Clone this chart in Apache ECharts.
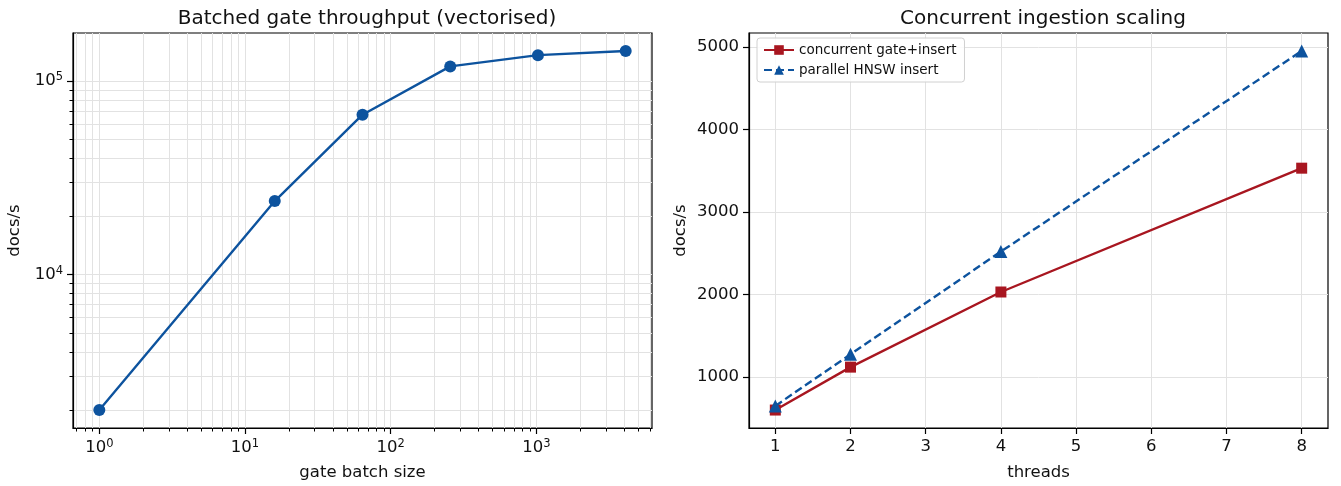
<!DOCTYPE html>
<html>
<head>
<meta charset="utf-8">
<script src="https://cdn.jsdelivr.net/npm/echarts@6/dist/echarts.min.js"></script>
<style>
html,body{margin:0;padding:0;background:#fff;}
#chart{width:1341px;height:486px;}
</style>
</head>
<body>
<div id="chart"></div>
<script>
// ---- data ----
const batchSizes = [1, 16, 64, 256, 1024, 4096];
const batchThroughput = [2000, 24000, 67000, 119000, 136000, 143000];

const threads = [1, 2, 4, 8];
const concurrentGateInsert = [600, 1120, 2030, 3530];
const parallelHnswInsert = [650, 1275, 2520, 4950];

const leftXMajorTicks = [1, 10, 100, 1000];
const leftXMinorTicks = [0.7, 0.8, 0.9, 2, 3, 4, 5, 6, 7, 8, 9, 20, 30, 40, 50, 60, 70, 80, 90,
  200, 300, 400, 500, 600, 700, 800, 900, 2000, 3000, 4000, 5000, 6000];
const leftYMajorTicks = [10000, 100000];
const leftYMinorTicks = [2000, 3000, 4000, 5000, 6000, 7000, 8000, 9000,
  20000, 30000, 40000, 50000, 60000, 70000, 80000, 90000];
const rightXTicks = [1, 2, 3, 4, 5, 6, 7, 8];
const rightYTicks = [1000, 2000, 3000, 4000, 5000];

// ---- helpers (axis limits with 5% margin like matplotlib) ----
function logLimits(arr) {
  const lo = Math.log10(Math.min(...arr)), hi = Math.log10(Math.max(...arr));
  const m = (hi - lo) * 0.05;
  return [Math.pow(10, lo - m), Math.pow(10, hi + m)];
}
function linLimits(arr) {
  const lo = Math.min(...arr), hi = Math.max(...arr);
  const m = (hi - lo) * 0.05;
  return [lo - m, hi + m];
}
const lx = logLimits(batchSizes);
const ly = logLimits(batchThroughput);
const rx = linLimits(threads);
const ry = linLimits(concurrentGateInsert.concat(parallelHnswInsert));

const FONT = 'DejaVu Sans';
const TXT = '#111';
const GRIDC = '#e2e2e2';
const BLUE = '#0d539e';
const RED = '#a81620';

const supRich = {
  b: {fontFamily: FONT, fontSize: 16.5, color: TXT, lineHeight: 20},
  s: {fontFamily: FONT, fontSize: 11.5, color: TXT, lineHeight: 9, verticalAlign: 'top'}
};
function supFmt(v) {
  return '{b|10}{s|' + Math.round(Math.log10(v)) + '}';
}

const tickStyle = {color: '#000', width: 1.2};
const minorTickStyle = {color: '#000', width: 1};
const gridRectL = {left: 73, top: 33, width: 579, height: 395};
const gridRectR = {left: 749, top: 33, width: 579, height: 395};

const chart = echarts.init(document.getElementById('chart'), null, {renderer: 'canvas'});
chart.setOption({
  animation: false,
  backgroundColor: '#fff',
  textStyle: {fontFamily: FONT},
  title: [
    {text: 'Batched gate throughput (vectorised)', left: 362, top: 4, textAlign: 'center',
     textStyle: {fontFamily: FONT, fontSize: 20, fontWeight: 'normal', color: TXT}},
    {text: 'Concurrent ingestion scaling', left: 1038, top: 4, textAlign: 'center',
     textStyle: {fontFamily: FONT, fontSize: 20, fontWeight: 'normal', color: TXT}}
  ],
  legend: {
    data: ['concurrent gate+insert', 'parallel HNSW insert'],
    orient: 'vertical',
    left: 757, top: 38,
    itemWidth: 30, itemHeight: 12, itemGap: 6,
    padding: [5, 8, 5, 6],
    borderColor: '#d0d0d0', borderWidth: 1, borderRadius: 3,
    backgroundColor: 'rgba(255,255,255,0.85)',
    textStyle: {fontFamily: FONT, fontSize: 13.5, color: TXT}
  },
  grid: [
    Object.assign({show: true, borderColor: '#000', borderWidth: 1.2, backgroundColor: 'transparent', containLabel: false}, gridRectL),
    Object.assign({show: true, borderColor: '#000', borderWidth: 1.2, backgroundColor: 'transparent', containLabel: false}, gridRectR),
    Object.assign({show: false, containLabel: false}, gridRectL)
  ],
  xAxis: [
    {type: 'log', gridIndex: 0, position: 'bottom', min: lx[0], max: lx[1],
     name: 'gate batch size', nameLocation: 'middle', nameGap: 36,
     nameTextStyle: {fontFamily: FONT, fontSize: 16.5, color: TXT},
     axisLine: {show: true, lineStyle: {color: '#000', width: 1.2}},
     axisTick: {show: true, length: 6, lineStyle: tickStyle, customValues: leftXMajorTicks},
     axisLabel: {show: true, margin: 10, customValues: leftXMajorTicks, formatter: supFmt, rich: supRich},
     splitLine: {show: true, lineStyle: {color: GRIDC, width: 1}}, z: 3},
    {type: 'value', gridIndex: 1, position: 'bottom', min: rx[0], max: rx[1],
     name: 'threads', nameLocation: 'middle', nameGap: 36,
     nameTextStyle: {fontFamily: FONT, fontSize: 16.5, color: TXT},
     axisLine: {show: true, onZero: false, lineStyle: {color: '#000', width: 1.2}},
     axisTick: {show: true, length: 6, lineStyle: tickStyle, customValues: rightXTicks},
     axisLabel: {show: true, margin: 10, customValues: rightXTicks, formatter: v => String(v),
                 fontFamily: FONT, fontSize: 16.5, color: TXT},
     splitLine: {show: true, lineStyle: {color: GRIDC, width: 1}}},
    {type: 'log', gridIndex: 2, position: 'bottom', min: lx[0], max: lx[1],
     axisLine: {show: false},
     axisTick: {show: true, length: 3.5, lineStyle: minorTickStyle, customValues: leftXMinorTicks},
     axisLabel: {show: false},
     splitLine: {show: true, lineStyle: {color: GRIDC, width: 1}}, z: 1}
  ],
  yAxis: [
    {type: 'log', gridIndex: 0, position: 'left', min: ly[0], max: ly[1],
     name: 'docs/s', nameLocation: 'middle', nameGap: 50, nameRotate: 90,
     nameTextStyle: {fontFamily: FONT, fontSize: 16.5, color: TXT},
     axisLine: {show: true, lineStyle: {color: '#000', width: 1.2}},
     axisTick: {show: true, length: 6, lineStyle: tickStyle, customValues: leftYMajorTicks},
     axisLabel: {show: true, margin: 10, customValues: leftYMajorTicks, formatter: supFmt, rich: supRich},
     splitLine: {show: true, lineStyle: {color: GRIDC, width: 1}}, z: 3},
    {type: 'value', gridIndex: 1, position: 'left', min: ry[0], max: ry[1],
     name: 'docs/s', nameLocation: 'middle', nameGap: 60, nameRotate: 90,
     nameTextStyle: {fontFamily: FONT, fontSize: 16.5, color: TXT},
     axisLine: {show: true, onZero: false, lineStyle: {color: '#000', width: 1.2}},
     axisTick: {show: true, length: 6, lineStyle: tickStyle, customValues: rightYTicks},
     axisLabel: {show: true, margin: 10, customValues: rightYTicks, formatter: v => String(v),
                 fontFamily: FONT, fontSize: 16.5, color: TXT},
     splitLine: {show: true, lineStyle: {color: GRIDC, width: 1}}},
    {type: 'log', gridIndex: 2, position: 'left', min: ly[0], max: ly[1],
     axisLine: {show: false},
     axisTick: {show: true, length: 3.5, lineStyle: minorTickStyle, customValues: leftYMinorTicks},
     axisLabel: {show: false},
     splitLine: {show: true, lineStyle: {color: GRIDC, width: 1}}, z: 1}
  ],
  series: [
    {name: 'batched', type: 'line', xAxisIndex: 0, yAxisIndex: 0,
     data: batchSizes.map((x, i) => [x, batchThroughput[i]]),
     symbol: 'circle', symbolSize: 12,
     lineStyle: {color: BLUE, width: 2.4}, itemStyle: {color: BLUE}, z: 5},
    {name: 'concurrent gate+insert', type: 'line', xAxisIndex: 1, yAxisIndex: 1,
     data: threads.map((x, i) => [x, concurrentGateInsert[i]]),
     symbol: 'rect', symbolSize: 11,
     lineStyle: {color: RED, width: 2.4}, itemStyle: {color: RED}, z: 5},
    {name: 'parallel HNSW insert', type: 'line', xAxisIndex: 1, yAxisIndex: 1,
     data: threads.map((x, i) => [x, parallelHnswInsert[i]]),
     symbol: 'triangle', symbolSize: 13,
     lineStyle: {color: BLUE, width: 2.4, type: [8, 4]}, itemStyle: {color: BLUE}, z: 6}
  ]
});
</script>
</body>
</html>
